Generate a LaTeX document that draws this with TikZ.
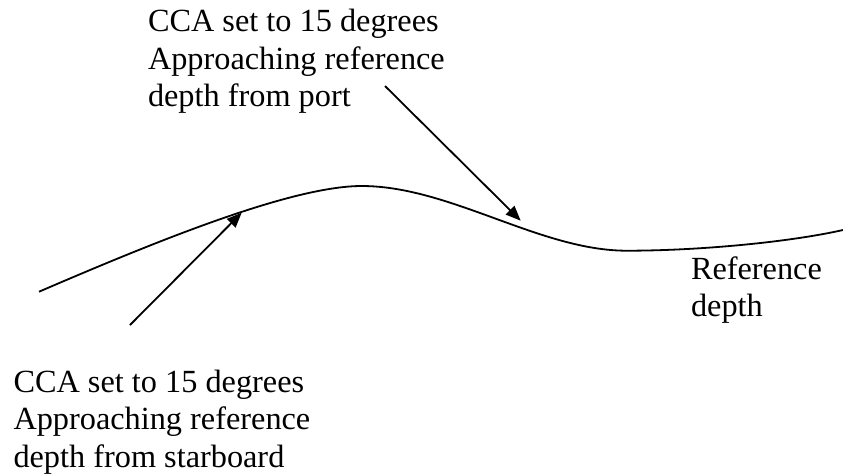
\documentclass[tikz,border=0pt]{standalone}
\usepackage{fontspec}
\setmainfont{Liberation Serif}
\usetikzlibrary{arrows.meta}
\begin{document}
\begin{tikzpicture}[x=1pt,y=1pt,
  lbl/.style={inner sep=0pt, outer sep=0pt, anchor=north west, align=left,
    font={\fontsize{32.3}{37.5}\selectfont}},
  curveline/.style={line width=1.8pt},
  pointer/.style={line width=1.8pt, -{Triangle[length=15pt,width=12pt]}}]
\useasboundingbox (0,0) rectangle (843,-475);
% curve
\coordinate (c0) at (39,-291.7);
\coordinate (peak) at (361.7,-186);
\coordinate (trough) at (626.7,-250.7);
\coordinate (c3) at (843,-230);
\draw[curveline] (c0) .. controls (150,-244) and (290,-186) .. (peak)
  .. controls (450,-186) and (540,-250.7) .. (trough)
  .. controls (700,-250.7) and (790,-242) .. (c3);
% labels
\node[lbl] (port) at (148,-9.4) {CCA set to 15 degrees\\Approaching reference\\depth from port};
\node[lbl] (star) at (13.5,-370) {CCA set to 15 degrees\\Approaching reference\\depth from starboard};
\node[lbl] (ref) at (691,-256.7) {Reference\\depth};
% arrows
\coordinate (portTail) at (385,-86);
\coordinate (portTip) at (520.7,-220.7);
\coordinate (starTail) at (130,-325);
\coordinate (starTip) at (241.7,-212.7);
\draw[pointer] (portTail) -- (portTip);
\draw[pointer] (starTail) -- (starTip);
\end{tikzpicture}
\end{document}
